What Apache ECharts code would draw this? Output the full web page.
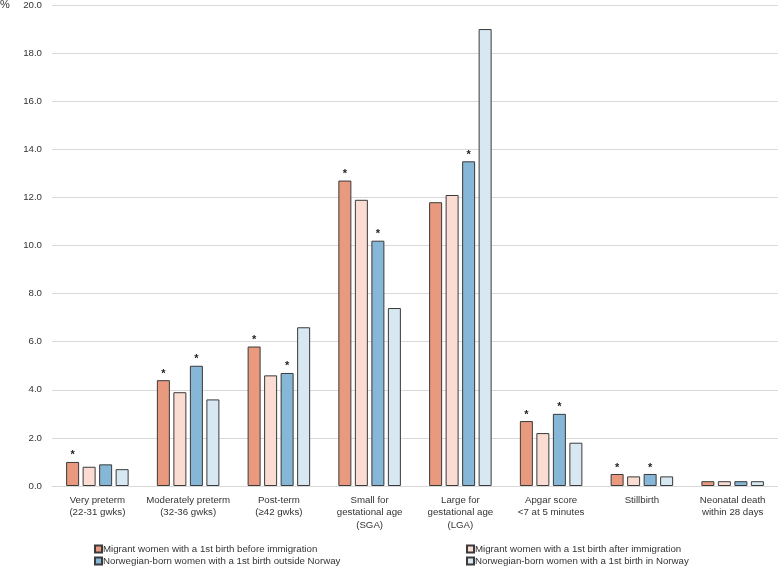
<!DOCTYPE html>
<html><head><meta charset="utf-8">
<script src="https://cdn.jsdelivr.net/npm/echarts@6/dist/echarts.min.js"></script>
<style>html,body{margin:0;padding:0;background:#fff}#c{width:778px;height:569px}</style>
</head><body><div id="c"></div>
<script>
const categories = ['Very preterm\n(22-31 gwks)', 'Moderately preterm\n(32-36 gwks)', 'Post-term\n(≥42 gwks)', 'Small for\ngestational age\n(SGA)', 'Large for\ngestational age\n(LGA)', 'Apgar score\n<7 at 5 minutes', 'Stillbirth', 'Neonatal death\nwithin 28 days'];
const seriesNames = ['Migrant women with a 1st birth before immigration', 'Migrant women with a 1st birth after immigration', 'Norwegian-born women with a 1st birth outside Norway', 'Norwegian-born women with a 1st birth in Norway'];
const s1 = [1.0, 4.4, 5.8, 12.7, 11.8, 2.7, 0.5, 0.2];
const s2 = [0.8, 3.9, 4.6, 11.9, 12.1, 2.2, 0.4, 0.2];
const s3 = [0.9, 5.0, 4.7, 10.2, 13.5, 3.0, 0.5, 0.2];
const s4 = [0.7, 3.6, 6.6, 7.4, 19.0, 1.8, 0.4, 0.2];
const sig1 = [1, 1, 1, 1, 0, 1, 1, 0];
const sig2 = [0, 0, 0, 0, 0, 0, 0, 0];
const sig3 = [0, 1, 1, 1, 1, 1, 1, 0];
const sig4 = [0, 0, 0, 0, 0, 0, 0, 0];
const colors = ['#E99A7E', '#FADCD3', '#86B7D6', '#D7E8F2'];

const vals = [s1, s2, s3, s4];
const sigs = [sig1, sig2, sig3, sig4];
const font = 'Liberation Sans';
const fs = 9.7;
const legPos = [[94, 544], [466, 544], [94, 556], [466, 556]];
const chart = echarts.init(document.getElementById('c'));
chart.setOption({
  animation: false,
  textStyle: {fontFamily: font},
  title: {text: '%', left: 0, top: -1, padding: 0, textStyle: {fontSize: 11, fontWeight: 'normal', color: '#333', fontFamily: font}},
  grid: {left: 52, right: 0, top: 4, bottom: 83, containLabel: false},
  legend: seriesNames.map((n, i) => ({
    data: [n], orient: 'horizontal', left: legPos[i][0], top: legPos[i][1], itemWidth: 7, itemHeight: 7,
    textStyle: {fontSize: fs, color: '#333', padding: [0, 0, 0, -4]}, icon: 'rect', padding: 0
  })),
  xAxis: {type: 'category', data: categories,
    axisLine: {lineStyle: {color: '#d9d9d9'}}, axisTick: {show: false},
    axisLabel: {interval: 0, color: '#333', fontSize: fs, lineHeight: 12.5, margin: 8}},
  yAxis: {type: 'value', min: 0, max: 20, interval: 2,
    axisLabel: {formatter: v => v.toFixed(1), color: '#333', fontSize: fs, margin: 10},
    splitLine: {lineStyle: {color: '#d9d9d9', width: 1}}},
  series: vals.map((v, i) => ({
    name: seriesNames[i], type: 'bar', barWidth: 13, barGap: '27%',
    itemStyle: {color: colors[i], borderColor: '#3a3a3a', borderWidth: 1},
    data: v.map((x, j) => ({value: x, label: {show: !!sigs[i][j]}})),
    label: {position: 'top', formatter: '*', fontSize: 11, fontWeight: 'bold', color: '#222', distance: 1}
  }))
});
</script></body></html>
